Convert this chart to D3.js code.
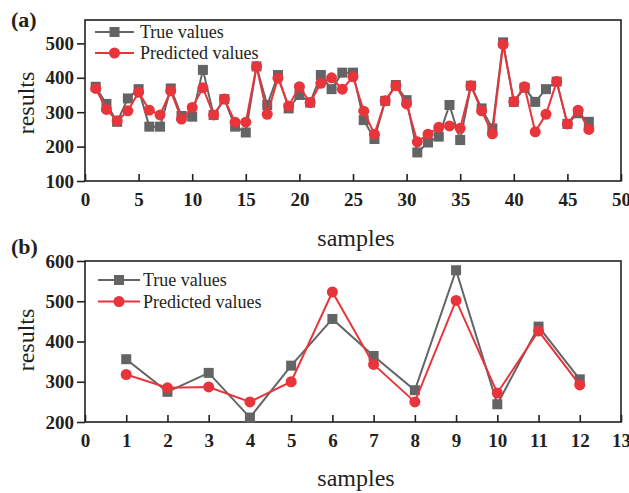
<!DOCTYPE html>
<html><head><meta charset="utf-8">
<script src="https://cdn.jsdelivr.net/npm/d3@7"></script>
<style>body{margin:0;background:#fff}svg{display:block}</style>
</head><body>
<script>
// Panel (a)
const samplesA = d3.range(1, 48);
const trueA = [374,324,272,340,367,258,258,369,289,287,423,292,338,258,241,433,321,408,311,350,328,408,367,415,415,277,222,333,379,335,183,212,229,321,219,377,311,253,503,330,371,330,367,389,266,297,272];
const predA = [369,308,275,304,358,306,292,362,280,314,371,292,338,271,271,433,294,399,318,374,328,384,400,367,403,303,236,333,377,324,214,236,256,260,253,377,304,237,497,331,374,243,294,389,266,306,250];
const xTicksA = [0,5,10,15,20,25,30,35,40,45,50];
const yTicksA = [100,200,300,400,500];
// Panel (b)
const samplesB = d3.range(1, 13);
const trueB = [356,275,322,211,340,456,364,279,577,244,437,306];
const predB = [318,285,287,250,300,523,343,250,502,272,426,292];
const xTicksB = d3.range(0, 14);
const yTicksB = [200,300,400,500,600];
const seriesNames = ["True values", "Predicted values"];

const W = 629, H = 493;
const gray = "#636466", red = "#e8353b";
const svg = d3.select("body").append("svg").attr("width", W).attr("height", H)
  .style("font-family", "'Liberation Serif', 'Times New Roman', serif");

function panel(cfg) {
  const x = d3.scaleLinear().domain(cfg.xDom).range([cfg.left, cfg.right]);
  const y = d3.scaleLinear().domain(cfg.yDom).range([cfg.bottom, cfg.top]);
  const g = svg.append("g");
  g.append("rect").attr("x", cfg.left).attr("y", cfg.top)
    .attr("width", cfg.right - cfg.left).attr("height", cfg.bottom - cfg.top)
    .attr("fill", "none").attr("stroke", "#231f20").attr("stroke-width", 1.6);
  const xa = g.append("g").attr("transform", `translate(0,${cfg.bottom})`)
    .call(d3.axisBottom(x).tickValues(cfg.xTicks).tickSize(-7).tickPadding(12).tickFormat(d3.format("d")));
  xa.select(".domain").remove();
  xa.selectAll("line").attr("stroke", "#231f20").attr("stroke-width", 1.6);
  xa.selectAll("text").attr("font-size", 19).attr("font-weight", "bold")
    .attr("fill", "#231f20").attr("font-family", "'Liberation Serif', serif");
  const ya = g.append("g").attr("transform", `translate(${cfg.left},0)`)
    .call(d3.axisLeft(y).tickValues(cfg.yTicks).tickSize(8).tickPadding(3).tickFormat(d3.format("d")));
  ya.select(".domain").remove();
  ya.selectAll("line").attr("stroke", "#231f20").attr("stroke-width", 1.6);
  ya.selectAll("text").attr("font-size", 19).attr("font-weight", "bold")
    .attr("fill", "#231f20").attr("font-family", "'Liberation Serif', serif");
  g.append("text").attr("x", cfg.xLabelX).attr("y", cfg.xLabelY).attr("text-anchor", "middle")
    .attr("font-size", 24).attr("fill", "#231f20").text("samples");
  g.append("text").attr("transform", `translate(${cfg.yLabelX},${cfg.yLabelY}) rotate(-90)`)
    .attr("text-anchor", "middle").attr("font-size", 24).attr("fill", "#231f20").text("results");
  g.append("text").attr("x", 11).attr("y", cfg.tagY).attr("font-size", 22).attr("font-weight", "bold")
    .attr("fill", "#231f20").text(cfg.tag);
  const line = d3.line().x((d, i) => x(cfg.samples[i])).y(d => y(d));
  g.append("path").datum(cfg.trueV).attr("d", line).attr("fill", "none")
    .attr("stroke", gray).attr("stroke-width", 2);
  g.selectAll(".sq").data(cfg.trueV).enter().append("rect")
    .attr("x", (d, i) => x(cfg.samples[i]) - cfg.sq / 2).attr("y", d => y(d) - cfg.sq / 2)
    .attr("width", cfg.sq).attr("height", cfg.sq).attr("fill", gray);
  g.append("path").datum(cfg.predV).attr("d", line).attr("fill", "none")
    .attr("stroke", red).attr("stroke-width", 2);
  g.selectAll(".ci").data(cfg.predV).enter().append("circle")
    .attr("cx", (d, i) => x(cfg.samples[i])).attr("cy", d => y(d))
    .attr("r", cfg.r).attr("fill", red);
  const L = cfg.legend;
  [0, 1].forEach(k => {
    const yy = L.y + k * L.dy;
    g.append("line").attr("x1", L.x0).attr("x2", L.x1).attr("y1", yy).attr("y2", yy)
      .attr("stroke", k ? red : gray).attr("stroke-width", 2);
    const mx = (L.x0 + L.x1) / 2;
    if (k === 0) g.append("rect").attr("x", mx - cfg.sq / 2).attr("y", yy - cfg.sq / 2)
      .attr("width", cfg.sq).attr("height", cfg.sq).attr("fill", gray);
    else g.append("circle").attr("cx", mx).attr("cy", yy).attr("r", cfg.r).attr("fill", red);
    g.append("text").attr("x", L.tx).attr("y", yy + 6).attr("font-size", 18)
      .attr("fill", "#231f20").text(seriesNames[k]);
  });
}

panel({
  tag: "(a)", tagY: 27,
  samples: samplesA, trueV: trueA, predV: predA,
  xDom: [0, 50], yDom: [100, 568], xTicks: xTicksA, yTicks: yTicksA,
  left: 85, right: 621, top: 20, bottom: 181,
  xLabelX: 356, xLabelY: 246, yLabelX: 34, yLabelY: 103,
  sq: 10, r: 5.5,
  legend: { x0: 95, x1: 134, y: 32, dy: 21, tx: 140 }
});
panel({
  tag: "(b)", tagY: 254,
  samples: samplesB, trueV: trueB, predV: predB,
  xDom: [0, 13], yDom: [200, 600], xTicks: xTicksB, yTicks: yTicksB,
  left: 85, right: 621, top: 261, bottom: 422,
  xLabelX: 356, xLabelY: 486, yLabelX: 34, yLabelY: 340,
  sq: 10, r: 5.5,
  legend: { x0: 98, x1: 140, y: 280, dy: 21.5, tx: 143 }
});
</script>
</body></html>
